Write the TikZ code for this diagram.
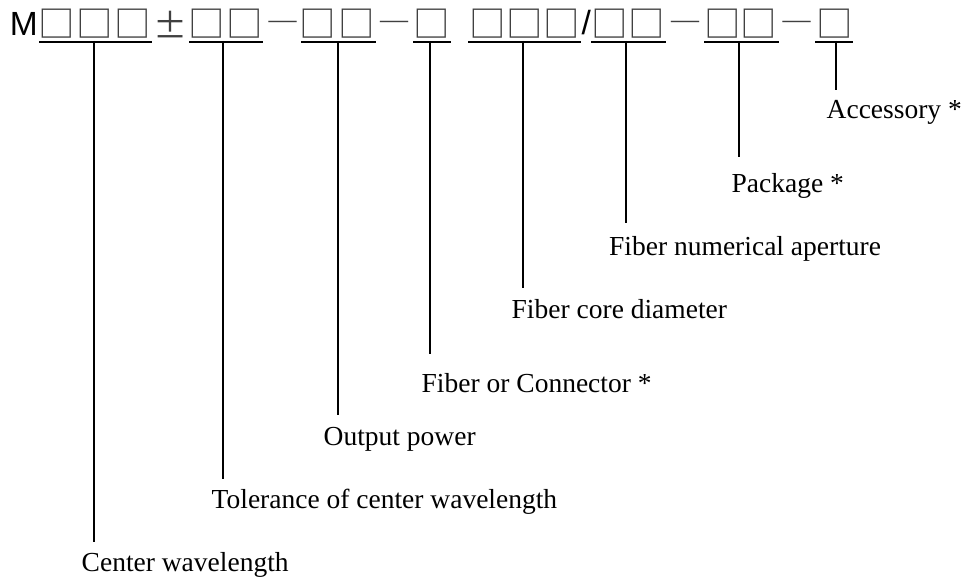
\documentclass[tikz,border=0pt]{standalone}
\usepackage{fontspec}
\setmainfont{Liberation Serif}
\newfontfamily\arialf{Liberation Sans}
\newfontfamily\cjkf{Noto Sans CJK SC}
\begin{document}
\begin{tikzpicture}[x=1pt,y=-1pt,
  lbl/.style={anchor=base west,inner sep=0pt,font=\fontsize{27.5}{30}\selectfont},
  sq/.style={anchor=center,inner sep=0pt,text=black!75,font=\cjkf\fontsize{36.5}{36.5}\selectfont},
  sym/.style={anchor=center,inner sep=0pt,text=black!75,font=\cjkf\fontsize{34}{34}\selectfont},
  dsh/.style={anchor=base,inner sep=0pt,text=black!75,font=\fontsize{28}{28}\selectfont},
  big/.style={anchor=center,inner sep=0pt,font=\arialf\fontsize{33.5}{34}\selectfont},
  rule/.style={line width=2pt,black}]
\useasboundingbox (0,0) rectangle (967,578);
% top line
\node[big] (m) at (23.8,24) {M};
\foreach \n/\x in {a1/57.2,a2/94.5,a3/132.8,b1/207.2,b2/245,c1/317.5,c2/356.7,d1/431.7,
  e1/487.5,e2/524.5,e3/561.7,f1/609.7,f2/646.7,g1/722.5,g2/758.3,h1/834.7}
  \node[sq] (\n) at (\x,24) {□};
\node[sym] (pm) at (170,25) {±};
\node[dsh] (d1m) at (282.5,28.5) {—};
\node[dsh] (d2m) at (394.2,28.5) {—};
\node[big] (sl) at (586.3,22.5) {/};
\node[dsh] (d3m) at (685,28.5) {—};
\node[dsh] (d4m) at (796.7,28.5) {—};
% underlines
\foreach \i/\a/\b in {1/39/152,2/189/263,3/301/376,4/413/451,5/468/581,6/591/666,7/704/779,8/815/853}{
  \coordinate (ul\i) at (\a,42);
  \coordinate (ur\i) at (\b,42);
  \draw[rule] (ul\i) -- (ur\i);
}
% labels
\node[lbl] (cw)  at (81.5,571) {Center wavelength};
\node[lbl] (tol) at (211.5,508) {Tolerance of center wavelength};
\node[lbl] (op)  at (323.5,445) {Output power};
\node[lbl] (foc) at (421.5,392) {Fiber or Connector *};
\node[lbl] (fcd) at (511.5,318) {Fiber core diameter};
\node[lbl] (fna) at (609,255) {Fiber numerical aperture};
\node[lbl] (pkg) at (731.5,192) {Package *};
\node[lbl] (acc) at (826.5,118) {Accessory *};
% connectors
\foreach \n/\x/\y in {cw/94/542,tol/223/479,op/337.5/415,foc/430/354,fcd/523/288,fna/626/223,pkg/738.5/157,acc/835.5/90}{
  \coordinate (t\n) at (\x,41);
  \coordinate (b\n) at (\x,\y);
  \draw[rule] (t\n) -- (b\n);
}
\end{tikzpicture}
\end{document}
